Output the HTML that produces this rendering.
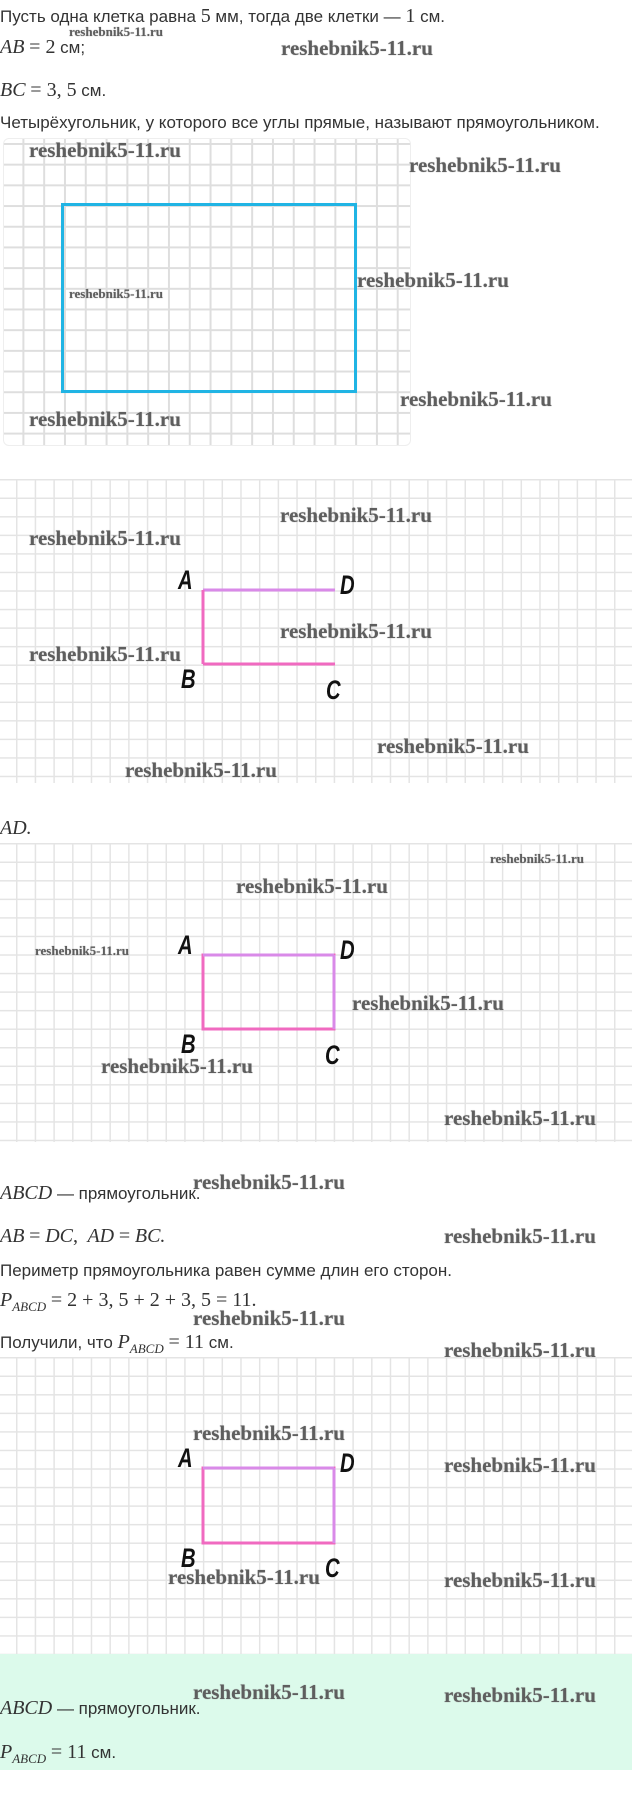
<!DOCTYPE html>
<html><head><meta charset="utf-8">
<style>
body{margin:0;width:632px;height:1805px;position:relative;background:#fff;overflow:hidden;font-family:"Liberation Sans",sans-serif;color:#333;}
.t{position:absolute;font-size:17px;line-height:20px;white-space:nowrap;}
.m{font-family:"Liberation Serif",serif;font-style:italic;font-size:20px;}
.n{font-family:"Liberation Serif",serif;font-size:20px;}
.w{position:absolute;font-family:"Liberation Serif",serif;font-weight:bold;font-size:21px;line-height:24px;color:#5e5e5e;text-shadow:0 0 1px #999;white-space:nowrap;}
.ws{font-size:13px;line-height:16px;}
.g{position:absolute;background-color:#fff;}
.g2{background-image:linear-gradient(to right,#e4e4e4 1.5px,transparent 1.5px),linear-gradient(to bottom,#e4e4e4 1.5px,transparent 1.5px);background-size:18.7px 18.55px;}
.L{position:absolute;font-family:"Liberation Sans",sans-serif;font-weight:bold;font-style:italic;font-size:27px;color:#111;transform:scaleX(0.75);transform-origin:left top;line-height:22px;}
sub{font-size:13px;}
</style></head><body>

<div class="t" style="left:0;top:6px">Пусть одна клетка равна <span class="n">5</span> мм, тогда две клетки — <span class="n">1</span> см.</div>
<div class="t" style="left:0;top:37px"><span class="m">AB</span> <span class="n">= 2</span> см;</div>
<div class="w ws" style="left:69px;top:24px">reshebnik5-11.ru</div>
<div class="w" style="left:281px;top:36px">reshebnik5-11.ru</div>
<div class="t" style="left:0;top:80px"><span class="m">BC</span> <span class="n">= 3, 5</span> см.</div>
<div class="t" style="left:0;top:113px">Четырёхугольник, у которого все углы прямые, называют прямоугольником.</div>

<!-- grid 1 -->
<div class="g" style="left:3px;top:138px;width:406px;height:306px;border-radius:6px;background-image:linear-gradient(to right,#dedede 2px,transparent 2px),linear-gradient(to bottom,#dedede 2px,transparent 2px);background-size:20.8px 20.7px;background-position:18.4px 4px;border:1px solid #eee;"></div>
<div style="position:absolute;left:61px;top:203px;width:290px;height:184px;border:3px solid #20b4e4;"></div>
<div class="w" style="left:29px;top:138px">reshebnik5-11.ru</div>
<div class="w" style="left:409px;top:153px">reshebnik5-11.ru</div>
<div class="w" style="left:357px;top:268px">reshebnik5-11.ru</div>
<div class="w ws" style="left:69px;top:286px">reshebnik5-11.ru</div>
<div class="w" style="left:400px;top:387px">reshebnik5-11.ru</div>
<div class="w" style="left:29px;top:407px">reshebnik5-11.ru</div>

<!-- grid 2 -->
<div class="g g2" style="left:0;top:479px;width:632px;height:304px;background-position:16px 0;"></div>
<svg style="position:absolute;left:0;top:0" width="632" height="1805">
<line x1="203" y1="590" x2="335" y2="590" stroke="#d98ae8" stroke-width="3"/>
<line x1="203" y1="590" x2="203" y2="664" stroke="#f06ac0" stroke-width="3"/>
<line x1="203" y1="664" x2="335" y2="664" stroke="#f06ac0" stroke-width="3"/>
</svg>
<div class="L" style="left:178px;top:569px">A</div>
<div class="L" style="left:340px;top:574px">D</div>
<div class="L" style="left:181px;top:668px">B</div>
<div class="L" style="left:326px;top:679px">C</div>
<div class="w" style="left:280px;top:503px">reshebnik5-11.ru</div>
<div class="w" style="left:29px;top:526px">reshebnik5-11.ru</div>
<div class="w" style="left:280px;top:619px">reshebnik5-11.ru</div>
<div class="w" style="left:29px;top:642px">reshebnik5-11.ru</div>
<div class="w" style="left:377px;top:734px">reshebnik5-11.ru</div>
<div class="w" style="left:125px;top:758px">reshebnik5-11.ru</div>

<div class="t" style="left:0;top:818px"><span class="m">AD.</span></div>

<!-- grid 3 -->
<div class="g g2" style="left:0;top:843px;width:632px;height:299px;background-position:16px 0;"></div>
<svg style="position:absolute;left:0;top:0" width="632" height="1805">
<rect x="203" y="955" width="131" height="74" fill="none" stroke="#f06ac0" stroke-width="3"/>
<line x1="203" y1="955" x2="334" y2="955" stroke="#d98ae8" stroke-width="3"/>
<line x1="334" y1="955" x2="334" y2="1029" stroke="#d98ae8" stroke-width="3"/>
</svg>
<div class="w ws" style="left:490px;top:851px">reshebnik5-11.ru</div>
<div class="w" style="left:236px;top:874px">reshebnik5-11.ru</div>
<div class="w ws" style="left:35px;top:943px">reshebnik5-11.ru</div>
<div class="w" style="left:352px;top:991px">reshebnik5-11.ru</div>
<div class="w" style="left:101px;top:1054px">reshebnik5-11.ru</div>
<div class="w" style="left:444px;top:1106px">reshebnik5-11.ru</div>
<div class="L" style="left:178px;top:934px">A</div>
<div class="L" style="left:340px;top:939px">D</div>
<div class="L" style="left:181px;top:1033px">B</div>
<div class="L" style="left:325px;top:1044px">C</div>

<div class="t" style="left:0;top:1183px"><span class="m">ABCD</span> — прямоугольник.</div>
<div class="w" style="left:193px;top:1170px">reshebnik5-11.ru</div>
<div class="t" style="left:0;top:1226px"><span class="m">AB</span> <span class="n">=</span> <span class="m">DC</span><span class="n">,</span>&nbsp; <span class="m">AD</span> <span class="n">=</span> <span class="m">BC.</span></div>
<div class="w" style="left:444px;top:1224px">reshebnik5-11.ru</div>
<div class="t" style="left:0;top:1261px">Периметр прямоугольника равен сумме длин его сторон.</div>
<div class="t" style="left:0;top:1290px"><span class="m">P<sub>ABCD</sub></span> <span class="n">= 2 + 3, 5 + 2 + 3, 5 = 11.</span></div>
<div class="w" style="left:193px;top:1306px">reshebnik5-11.ru</div>
<div class="t" style="left:0;top:1332px">Получили, что <span class="m">P<sub>ABCD</sub></span> <span class="n">= 11</span> см.</div>
<div class="w" style="left:444px;top:1338px">reshebnik5-11.ru</div>

<!-- grid 4 -->
<div class="g g2" style="left:0;top:1357px;width:632px;height:297px;background-position:16px 0;"></div>
<svg style="position:absolute;left:0;top:0" width="632" height="1805">
<rect x="203" y="1468" width="131" height="75" fill="none" stroke="#f06ac0" stroke-width="3"/>
<line x1="203" y1="1468" x2="334" y2="1468" stroke="#d98ae8" stroke-width="3"/>
<line x1="334" y1="1468" x2="334" y2="1543" stroke="#d98ae8" stroke-width="3"/>
</svg>
<div class="L" style="left:178px;top:1447px">A</div>
<div class="L" style="left:340px;top:1452px">D</div>
<div class="L" style="left:181px;top:1547px">B</div>
<div class="L" style="left:325px;top:1557px">C</div>
<div class="w" style="left:193px;top:1421px">reshebnik5-11.ru</div>
<div class="w" style="left:444px;top:1453px">reshebnik5-11.ru</div>
<div class="w" style="left:168px;top:1565px">reshebnik5-11.ru</div>
<div class="w" style="left:444px;top:1568px">reshebnik5-11.ru</div>

<!-- answer box -->
<div style="position:absolute;left:0;top:1654px;width:632px;height:116px;background:#dcfaeb;"></div>
<div class="w" style="left:193px;top:1680px">reshebnik5-11.ru</div>
<div class="w" style="left:444px;top:1683px">reshebnik5-11.ru</div>
<div class="t" style="left:0;top:1698px"><span class="m">ABCD</span> — прямоугольник.</div>
<div class="t" style="left:0;top:1742px"><span class="m">P<sub>ABCD</sub></span> <span class="n">= 11</span> см.</div>

</body></html>
